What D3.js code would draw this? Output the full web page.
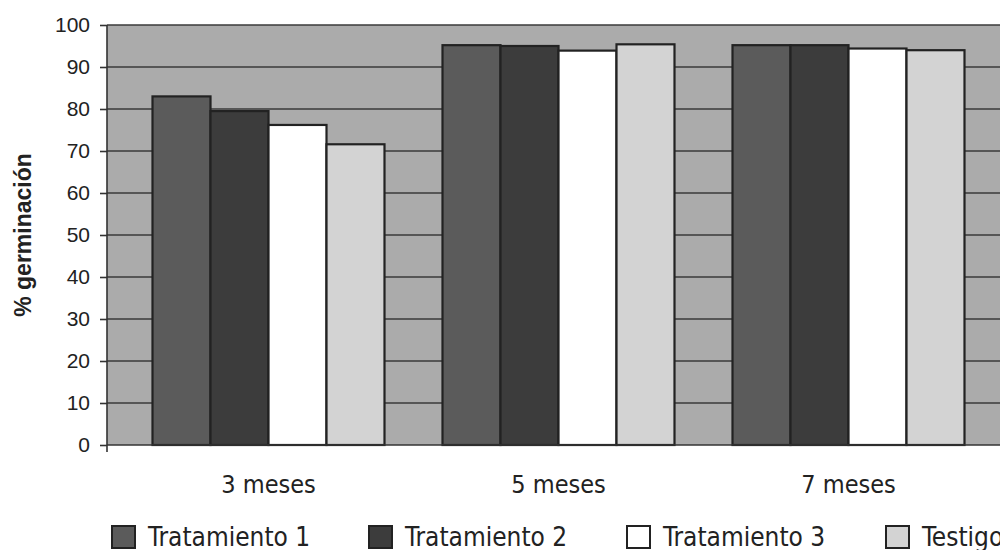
<!DOCTYPE html>
<html><head><meta charset="utf-8">
<script src="https://cdn.jsdelivr.net/npm/d3@7"></script>
<style>body{margin:0;background:#fff;overflow:hidden}</style>
</head><body>
<svg id="c" width="1000" height="550"></svg>
<script>
const categories = ["3 meses", "5 meses", "7 meses"];
const seriesNames = ["Tratamiento 1", "Tratamiento 2", "Tratamiento 3", "Testigo"];
const tratamiento1 = [83, 95.2, 95.2];
const tratamiento2 = [79.5, 95, 95.2];
const tratamiento3 = [76.2, 93.9, 94.4];
const testigo = [71.6, 95.4, 94];
const yTicks = [0, 10, 20, 30, 40, 50, 60, 70, 80, 90, 100];
const colors = ["#5b5b5b", "#3c3c3c", "#ffffff", "#d3d3d3"];

const seriesValues = [tratamiento1, tratamiento2, tratamiento3, testigo];
const svg = d3.select("#c");
const plotLeft = 107, plotRight = 1000, plotTop = 25, plotBottom = 445;
const catFont = "'DejaVu Sans Condensed','DejaVu Sans',sans-serif";

const y = d3.scaleLinear().domain([0, 100]).range([plotBottom, plotTop]);
const x0 = d3.scaleBand().domain(categories).range([123.5, 993.5]).paddingInner(0);
const x1 = d3.scaleBand().domain(seriesNames)
  .range([x0.bandwidth() * 0.1, x0.bandwidth() * 0.9]);

// plot background
svg.append("rect").attr("x", plotLeft).attr("y", plotTop)
  .attr("width", plotRight - plotLeft).attr("height", plotBottom - plotTop)
  .attr("fill", "#ababab");

// gridlines
svg.append("g").selectAll("line").data(yTicks.filter(d => d > 0)).enter().append("line")
  .attr("x1", plotLeft).attr("x2", plotRight)
  .attr("y1", d => y(d)).attr("y2", d => y(d))
  .attr("stroke", "#3a3a3a").attr("stroke-width", 1.5);

// bars
const groups = svg.append("g").selectAll("g").data(categories).enter().append("g")
  .attr("transform", d => `translate(${x0(d)},0)`);
groups.selectAll("rect").data((c, ci) => seriesNames.map((s, si) => ({s, si, v: seriesValues[si][ci]})))
  .enter().append("rect")
  .attr("x", d => x1(d.s)).attr("width", x1.bandwidth())
  .attr("y", d => y(d.v)).attr("height", d => y(0) - y(d.v))
  .attr("fill", d => colors[d.si])
  .attr("stroke", "#222").attr("stroke-width", 2.2);

// y axis
const yAxis = d3.axisLeft(y).tickValues(yTicks).tickSize(7).tickPadding(10).tickSizeOuter(0);
const ga = svg.append("g").attr("transform", `translate(${plotLeft},0)`).call(yAxis);
ga.select(".domain").attr("stroke", "#333").attr("stroke-width", 1.6).attr("d", `M0,${plotTop}V${plotBottom + 7}`);
ga.selectAll(".tick line").attr("stroke", "#333").attr("stroke-width", 1.6);
ga.selectAll("text").attr("font-family", "'Liberation Sans',Arial,sans-serif")
  .attr("font-size", 21).attr("fill", "#222");

// x axis baseline
svg.append("line").attr("x1", plotLeft).attr("x2", plotRight)
  .attr("y1", y(0)).attr("y2", y(0)).attr("stroke", "#333").attr("stroke-width", 1.6);

// category labels
const xAxis = d3.axisBottom(x0).tickSize(0).tickPadding(0);
const gx = svg.append("g").attr("transform", `translate(0,${plotBottom})`).call(xAxis);
gx.select(".domain").remove();
gx.selectAll("text").attr("dy", null).attr("y", 48)
  .attr("font-family", catFont).attr("font-size", 25).attr("fill", "#222");

// y label
svg.append("text").attr("transform", `translate(31,235) rotate(-90)`)
  .attr("text-anchor", "middle")
  .attr("font-family", "'Liberation Sans',Arial,sans-serif").attr("font-weight", "bold")
  .attr("font-size", 23).attr("fill", "#222").text("% germinación");

// legend
const legendX = [112, 369, 627, 886];
const lg = svg.append("g").selectAll("g").data(seriesNames).enter().append("g")
  .attr("transform", (d, i) => `translate(${legendX[i]},526)`);
lg.append("rect").attr("x", 0).attr("y", 0).attr("width", 23).attr("height", 22)
  .attr("fill", (d, i) => colors[i]).attr("stroke", "#222").attr("stroke-width", 2);
lg.append("text").attr("x", 36).attr("y", 20)
  .attr("font-family", catFont).attr("font-size", 26).attr("fill", "#222").text(d => d);
</script>
</body></html>
